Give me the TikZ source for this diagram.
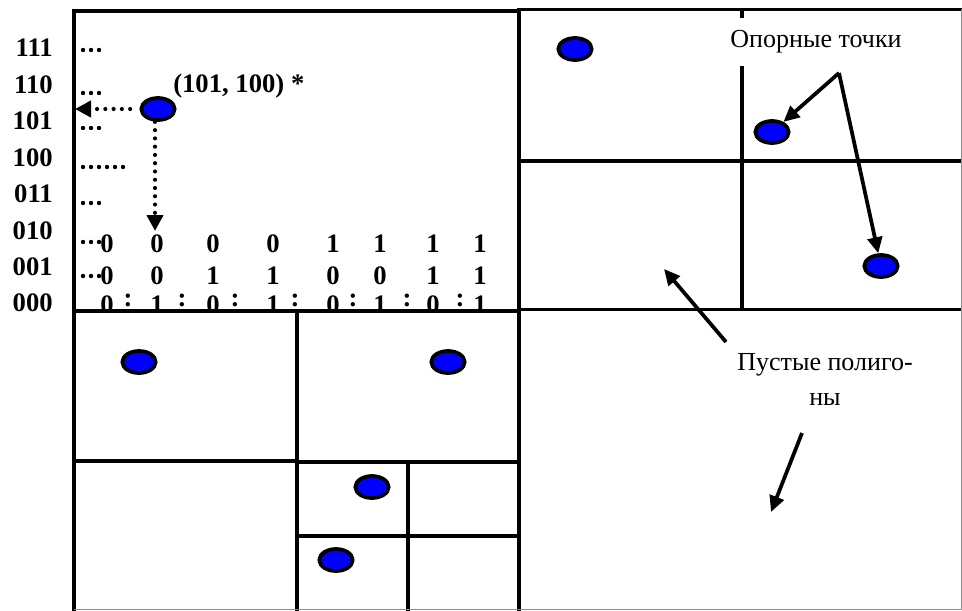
\documentclass[tikz,border=0pt]{standalone}
\usepackage{fontspec}
\setmainfont{Liberation Serif}
\usetikzlibrary{arrows.meta,shapes.geometric}
\begin{document}
\begin{tikzpicture}[x=0.75pt,y=-0.75pt,
  frame/.style={line width=2.5pt, line cap=rect},
  rim/.style={line width=0.7pt, draw=black!45},
  pt/.style={ellipse, draw=black, fill=blue, line width=2.8pt,
             minimum width=25pt, minimum height=16.5pt, inner sep=0pt},
  bits/.style={font=\bfseries\fontsize{20}{22}\selectfont, inner sep=0pt},
  lbl/.style={font=\fontsize{19.5}{26}\selectfont, inner sep=0pt},
  dotrow/.style={line width=3.3pt, line cap=round, dash pattern=on 0pt off 6pt},
  dotarr/.style={line width=3.1pt, line cap=round, dash pattern=on 0pt off 6.2pt,
                 -{Triangle[length=12pt,width=12pt]}},
  arr/.style={line width=2.8pt, -{Triangle[length=12pt,width=11pt]}}
]
\useasboundingbox (0,0) rectangle (962,610);

% binary codes of the rows
\foreach \t [count=\i from 0] in {111,110,101,100,011,010,001,000}
  \node[bits, anchor=base east] (row\t) at (53,{57+36.4*\i}) {\t};

% dotted leaders next to the row codes
\foreach \y in {50,93,128,203,242,276}
  \draw[dotrow] (83,\y) -- (100,\y);
\draw[dotrow] (83,167) -- (124,167);

% codes of the columns
\foreach \x/\a/\b [count=\i] in {107/0/0,157/0/0,213/0/1,273/0/1,333/1/0,380/1/0,433/1/1,480/1/1}{
  \node[bits, anchor=base] (ca\i) at (\x,252) {\a};
  \node[bits, anchor=base] (cb\i) at (\x,284) {\b};
}
\begin{scope}
  \clip (74,0) rectangle (519,309);
  \foreach \x/\c [count=\i] in {107/0,157/1,213/0,273/1,333/0,380/1,433/0,480/1}
    \node[bits, anchor=base] (cc\i) at (\x,313) {\c};
  \foreach \x in {128,182,235,295,353,407,460}
    \node[bits, anchor=base] at (\x,306) {:};
\end{scope}

% grid of the polygons
\draw[frame] (74,11) -- (519,11);
\draw[frame] (519,9.5) -- (962,9.5);
\draw[frame] (74,11) -- (74,612);
\draw[frame] (519,9.5) -- (519,612);
\draw[frame] (519,161) -- (962,161);
\draw[frame] (74,311) -- (519,311);
\draw[frame] (519,309.5) -- (962,309.5);
\draw[frame] (742,9.5) -- (742,16);
\draw[frame] (742,68) -- (742,309.5);
\draw[frame] (74,461) -- (297,461);
\draw[frame] (297,311) -- (297,612);
\draw[frame] (297,462) -- (519,462);
\draw[frame] (297,536) -- (519,536);
\draw[frame] (408,462) -- (408,612);
\draw[rim] (961,9.5) -- (961,610);
\draw[rim] (74,609.5) -- (961,609.5);

% reference points
\node[pt] (p0) at (158,109) {};
\node[pt] (pa) at (575,49) {};
\node[pt] (pb) at (772,132) {};
\node[pt] (pc) at (881,266) {};
\node[pt] (pd) at (139,362) {};
\node[pt] (pe) at (448,362) {};
\node[pt] (pf) at (372,487) {};
\node[pt] (pg) at (336,560) {};

\node[bits, anchor=base west] (code) at (173,92) {(101, 100) *};

% projections of the point onto the axes
\coordinate (tipx) at (75,109);
\coordinate (tipy) at (155,231);
\draw[dotarr, shorten <=7pt] (p0.west) -- (tipx);
\draw[dotarr] (p0.south -| tipy) -- (tipy);

% captions
\node[lbl, anchor=base] (ref) at (816,48) {Опорные точки};
\coordinate (fork) at (839,73);
\draw[arr] (fork) -- (pb);
\draw[arr] (fork) -- (pc);

\node[lbl, anchor=base] (empty1) at (825,370) {Пустые полиго-};
\node[lbl, anchor=base] (empty2) at (825,405) {ны};
\coordinate (e1s) at (726,342);
\coordinate (e1t) at (664,269);
\coordinate (e2s) at (802,433);
\coordinate (e2t) at (771,512);
\draw[arr] (e1s) -- (e1t);
\draw[arr] (e2s) -- (e2t);
\end{tikzpicture}
\end{document}
